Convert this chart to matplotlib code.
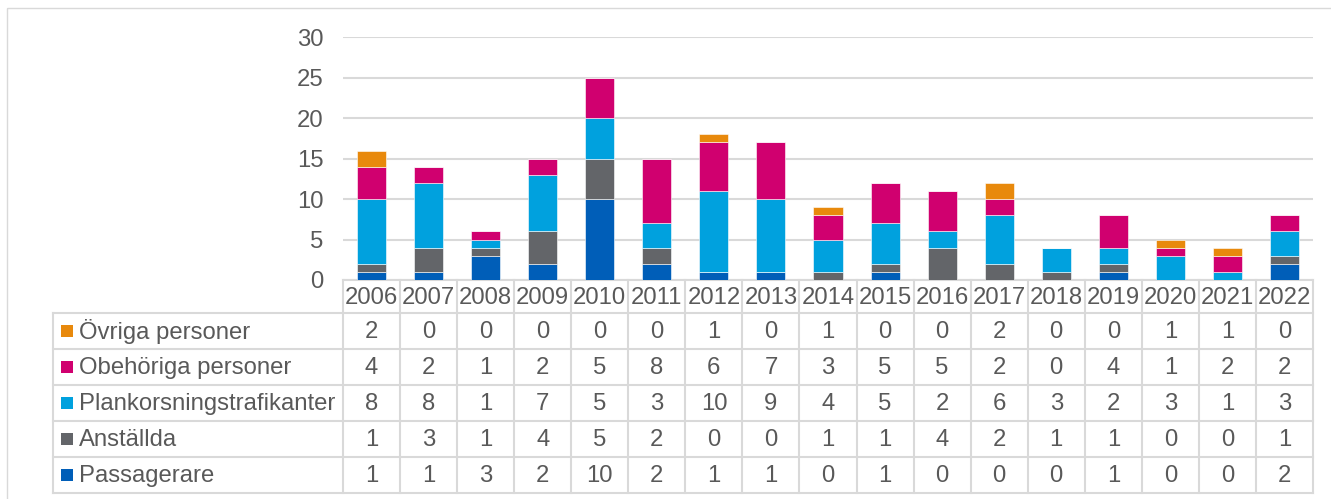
import matplotlib
matplotlib.use("Agg")
import matplotlib.pyplot as plt
from matplotlib.patches import Rectangle
import numpy as np

plt.rcParams["font.family"] = ["Liberation Sans", "DejaVu Sans"]

years = [str(y) for y in range(2006, 2023)]
passagerare = [1, 1, 3, 2, 10, 2, 1, 1, 0, 1, 0, 0, 0, 1, 0, 0, 2]
anstallda = [1, 3, 1, 4, 5, 2, 0, 0, 1, 1, 4, 2, 1, 1, 0, 0, 1]
plankorsning = [8, 8, 1, 7, 5, 3, 10, 9, 4, 5, 2, 6, 3, 2, 3, 1, 3]
obehoriga = [4, 2, 1, 2, 5, 8, 6, 7, 3, 5, 5, 2, 0, 4, 1, 2, 2]
ovriga = [2, 0, 0, 0, 0, 0, 1, 0, 1, 0, 0, 2, 0, 0, 1, 1, 0]

# bottom to top in the stack
series = [
    ("Passagerare", passagerare, "#005EB8"),
    ("Anställda", anstallda, "#636569"),
    ("Plankorsningstrafikanter", plankorsning, "#00A1DE"),
    ("Obehöriga personer", obehoriga, "#D0006F"),
    ("Övriga personer", ovriga, "#E8890C"),
]

W, H = 1331, 499
TXT = "#595959"
GRID = "#D9D9D9"
FS = 17.2

fig = plt.figure(figsize=(W / 100, H / 100), dpi=100)

# pixel layout
x_left, x_right = 343, 1313
y_top, y_zero = 37.3, 280
lab_left = 53
hdr_bottom = 313
row_h = 36
n = len(years)
colw = (x_right - x_left) / n

ax = fig.add_axes([x_left / W, 1 - y_zero / H, (x_right - x_left) / W, (y_zero - y_top) / H])
x = np.arange(n)
bottom = np.zeros(n)
for name, vals, col in series:
    ax.bar(x, vals, 0.51, bottom=bottom, color=col, edgecolor="white", linewidth=0.4, zorder=3)
    bottom += np.array(vals)
ax.set_xlim(-0.5, n - 0.5)
ax.set_ylim(0, 30)
ax.set_yticks(range(0, 31, 5))
ax.set_xticks([])
ax.yaxis.grid(True, color=GRID, linewidth=1.5, zorder=0)
ax.tick_params(axis="y", length=0, pad=14, labelsize=FS, labelcolor=TXT)
for s in ["top", "right", "left"]:
    ax.spines[s].set_visible(False)
ax.spines["bottom"].set_color(GRID)
ax.spines["bottom"].set_linewidth(1.5)

# overlay in pixel coordinates for the data table
ov = fig.add_axes([0, 0, 1, 1], facecolor="none")
ov.set_xlim(0, W)
ov.set_ylim(H, 0)
ov.axis("off")

ov.add_patch(Rectangle((7, 8), W, H, fill=False, edgecolor=GRID, linewidth=1))

lw = 1.5
bottom_y = hdr_bottom + row_h * len(series)
for i in range(n + 1):
    xx = x_left + i * colw
    ov.plot([xx, xx], [y_zero, bottom_y], color=GRID, linewidth=lw)
ov.plot([lab_left, lab_left], [hdr_bottom, bottom_y], color=GRID, linewidth=lw)
for r in range(len(series) + 1):
    yy = hdr_bottom + r * row_h
    ov.plot([lab_left, x_right], [yy, yy], color=GRID, linewidth=lw)

for i, yr in enumerate(years):
    ov.text(x_left + (i + 0.5) * colw, (y_zero + hdr_bottom) / 2 + 1, yr,
            ha="center", va="center", fontsize=FS, color=TXT)

for r, (name, vals, col) in enumerate(reversed(series)):
    yc = hdr_bottom + (r + 0.5) * row_h
    ov.add_patch(Rectangle((61, yc - 6), 12, 12, color=col, linewidth=0))
    ov.text(79, yc + 1, name, ha="left", va="center", fontsize=FS, color=TXT)
    for i, v in enumerate(vals):
        ov.text(x_left + (i + 0.5) * colw, yc + 1, str(v),
                ha="center", va="center", fontsize=FS, color=TXT)

fig.savefig("out.png", dpi=100)
